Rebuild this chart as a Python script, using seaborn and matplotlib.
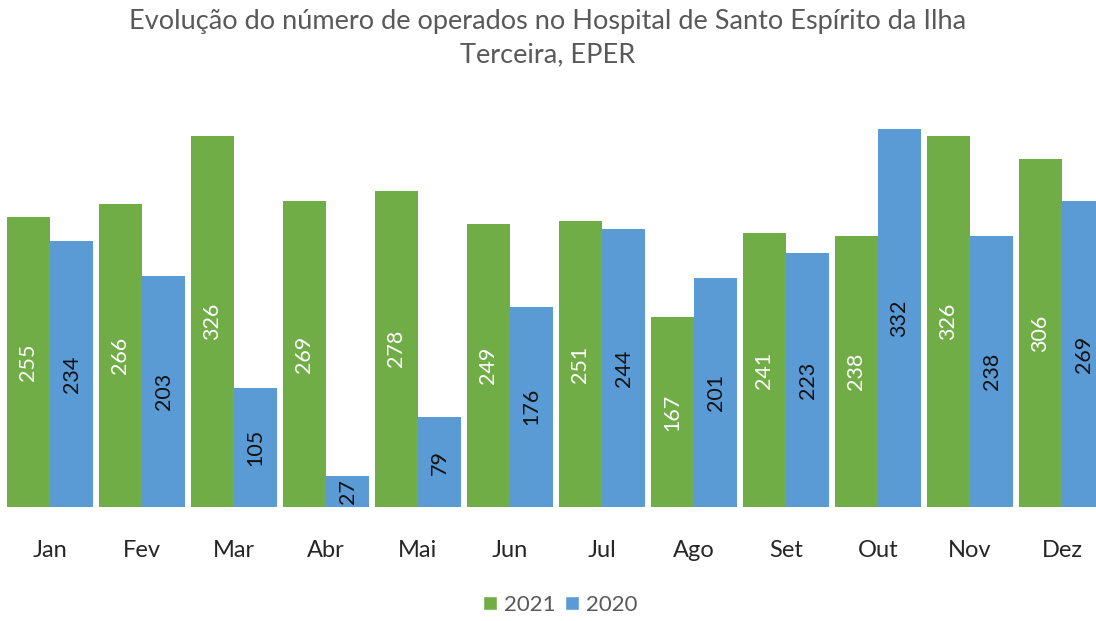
import matplotlib
matplotlib.use("Agg")
import matplotlib.pyplot as plt
import seaborn as sns
import pandas as pd
from matplotlib.patches import Patch

months = ["Jan", "Fev", "Mar", "Abr", "Mai", "Jun", "Jul", "Ago", "Set", "Out", "Nov", "Dez"]
values_2021 = [255, 266, 326, 269, 278, 249, 251, 167, 241, 238, 326, 306]
values_2020 = [234, 203, 105, 27, 79, 176, 244, 201, 223, 332, 238, 269]
series = ["2021", "2020"]
colors = {"2021": "#70AD47", "2020": "#5B9BD5"}
label_colors = {"2021": "white", "2020": "#111111"}
title = "Evolução do número de operados no Hospital de Santo Espírito da Ilha\nTerceira, EPER"

df = pd.DataFrame({
    "month": months * 2,
    "value": values_2021 + values_2020,
    "year": ["2021"] * len(months) + ["2020"] * len(months),
})

sns.set_theme(style="white")
plt.rcParams["font.family"] = ["Lato", "DejaVu Sans"]

fig = plt.figure(figsize=(10.96, 6.21), dpi=100)
ax = fig.add_axes([0, 0.1836, 1, 0.655])

sns.barplot(data=df, x="month", y="value", hue="year", hue_order=series,
            order=months, palette=colors, width=0.94, gap=0.0,
            saturation=1, ax=ax, legend=False, edgecolor="none")

ax.set_xlim(-0.543, 11.37)
ax.set_ylim(0, 357.5)

for container, yr in zip(ax.containers, series):
    for bar in container:
        h = bar.get_height()
        ax.text(bar.get_x() + bar.get_width() / 2, h / 2, f"{int(round(h))}",
                rotation=90, ha="center", va="center", fontsize=15.5,
                color=label_colors[yr])

ax.set_xlabel("")
ax.set_ylabel("")
ax.set_yticks([])
ax.tick_params(axis="x", length=0, pad=24, labelsize=17, labelcolor="#262626")
for s in ax.spines.values():
    s.set_visible(False)

fig.text(0.5, 0.985, title, ha="center", va="top", fontsize=19.5,
         color="#595959", linespacing=1.4)

handles = [Patch(facecolor=colors[s], label=s) for s in series]
fig.legend(handles=handles, loc="center", bbox_to_anchor=(0.511, 0.026),
           ncol=2, frameon=False, fontsize=16, handlelength=0.65,
           handleheight=0.65, handletextpad=0.3, columnspacing=0.4,
           labelcolor="#595959")

fig.savefig("out.png", dpi=100)
